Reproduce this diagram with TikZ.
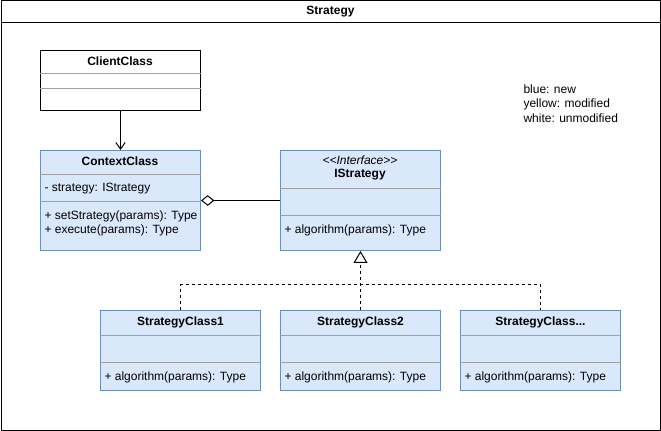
\documentclass[tikz,border=0pt]{standalone}
\usepackage{fontspec}
\setmainfont{Liberation Sans}
\usetikzlibrary{arrows.meta,positioning,calc}
\definecolor{newfill}{HTML}{DAE8FC}
\definecolor{newline}{HTML}{6C8EBF}
\definecolor{sepline}{HTML}{A0A0A0}
\begin{document}
\begin{tikzpicture}[x=0.75pt,y=-0.75pt,line width=0.75pt,
    font=\fontsize{9}{10.9}\selectfont,
    newclass/.style={draw=newline,fill=newfill,minimum width=120pt,inner sep=0pt,anchor=north west},
    oldclass/.style={draw=black,fill=white,minimum width=120pt,inner sep=0pt,anchor=north west},
    classname/.style={inner sep=0pt,font=\fontsize{9}{10.9}\selectfont\bfseries},
    member/.style={inner sep=0pt,anchor=west},
    sep/.style={draw=sepline},
    realize/.style={dash pattern=on 2.25pt off 2.25pt}]
	\useasboundingbox (0,0) rectangle (661,431);
	% frame and title
	\draw (1,1) rectangle (660,430);
	\draw (1,23) -- (660,23);
	\node[classname] (title) at (330.5,12) {Strategy};
	% client
	\node[oldclass,minimum height=45pt] (client) at (40,50) {};
	\node[classname] (clientname) at (120,61.5) {ClientClass};
	\draw[sep] ($(client.north west)+(0,24)$) -- ($(client.north east)+(0,24)$);
	\draw[sep] ($(client.north west)+(0,39)$) -- ($(client.north east)+(0,39)$);
	% context
	\node[newclass,minimum height=75pt] (ctx) at (40,150) {};
	\node[classname] (ctxname) at (120,161.5) {ContextClass};
	\draw[sep] ($(ctx.north west)+(0,24.5)$) -- ($(ctx.north east)+(0,24.5)$);
	\node[member] (ctxattr) at (44,188.5) {- strategy: IStrategy};
	\draw[sep] ($(ctx.north west)+(0,52)$) -- ($(ctx.north east)+(0,52)$);
	\node[member] (ctxset) at (44,216) {+ setStrategy(params): Type};
	\node[member] (ctxexec) at (44,230.5) {+ execute(params): Type};
	% interface
	\node[newclass,minimum height=75pt] (istr) at (280,150) {};
	\node[inner sep=0pt] (istrtype) at (360,160) {\itshape <\kern0pt<Interface>\kern0pt>};
	\node[classname] (istrname) at (360,175) {IStrategy};
	\draw[sep] ($(istr.north west)+(0,39)$) -- ($(istr.north east)+(0,39)$);
	\draw[sep] ($(istr.north west)+(0,66)$) -- ($(istr.north east)+(0,66)$);
	\node[member] (istralg) at (284,230.5) {+ algorithm(params): Type};
	% concrete strategies
	\foreach \n/\x/\t in {1/100/StrategyClass1,2/280/StrategyClass2,3/460/{StrategyClass.{}.{}.}}{
		\node[newclass,minimum height=60pt] (s\n) at (\x,310) {};
		\node[classname] (s\n name) at ($(s\n.north)+(0,12)$) {\t};
		\draw[sep] ($(s\n.north west)+(0,25)$) -- ($(s\n.north east)+(0,25)$);
		\draw[sep] ($(s\n.north west)+(0,52)$) -- ($(s\n.north east)+(0,52)$);
		\node[member] (s\n alg) at ($(s\n.north west)+(4,67)$) {+ algorithm(params): Type};
	}
	% legend
	\node[inner sep=0pt,anchor=north west,align=left] (legend) at (523,84) {blue: new\\yellow: modified\\white: unmodified};
	% connectors
	\draw[-{Straight Barb[length=5pt,width=7pt]}] (client.south) -- (ctx.north);
	\draw[{Diamond[open,fill=white,length=10pt,width=8pt]}-] (ctx.east) -- (istr.west);
	\coordinate (bus) at (360,285);
	\draw[realize] (s1.north) |- (bus) -| (s3.north);
	\draw[realize,-{Triangle[open,fill=white,length=9pt,width=10.5pt]}] (s2.north) -- (istr.south);
\end{tikzpicture}
\end{document}
